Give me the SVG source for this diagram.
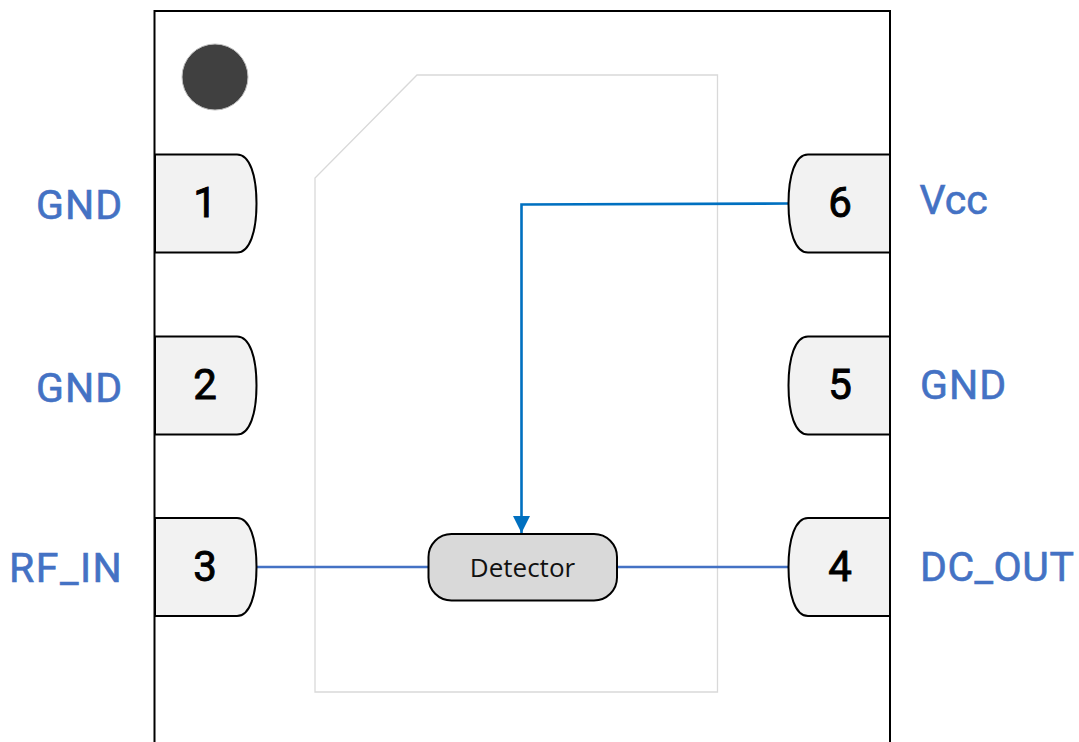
<svg xmlns="http://www.w3.org/2000/svg" width="1079" height="742" viewBox="0 0 1079 742">
<style>
.pin{fill:#f2f2f2;stroke:#000;stroke-width:2}
.num{font-family:Roboto,"Liberation Sans",sans-serif;font-weight:400;font-size:42px;fill:#000;stroke:#000;stroke-width:.9px;text-anchor:middle}
.lab{font-family:Roboto,"Liberation Sans",sans-serif;font-weight:400;font-size:41px;fill:#4472c4;stroke:#4472c4;stroke-width:.6px;letter-spacing:1px}
.sig{fill:none;stroke:#4472c4;stroke-width:2.400}
</style>
<defs>
<marker id="arrow" markerUnits="userSpaceOnUse" markerWidth="18" markerHeight="18" refX="17" refY="9" orient="auto"><path d="M0 0.500L17 9L0 17.500Z" fill="#0070c0"/></marker>
</defs>
<rect width="1079" height="742" fill="#fff"/>
<g id="package">
<path d="M154.500 742V11H890V742" fill="none" stroke="#000" stroke-width="2"/>
<circle cx="215" cy="77" r="33" fill="#404040" stroke="#bfbfbf" stroke-width="1"/>
<path d="M417 75H717.500V692H315V178Z" fill="#fff" stroke="#d9d9d9" stroke-width="1.300"/>
</g>
<g id="connectors">
<path class="sig" d="M257 567H428"/>
<path class="sig" d="M617 567H789"/>
<path d="M789 203.500L521.500 204.500V533" fill="none" stroke="#0070c0" stroke-width="2.600" marker-end="url(#arrow)"/>
</g>
<g id="pin1"><path class="pin" d="M155 154.500H237C250 154.500 256.500 176 256.500 203.500S250 252.500 237 252.500H155Z"/><text class="num" x="205" y="217">1</text><text class="lab" x="36" y="219">GND</text></g>
<g id="pin2"><path class="pin" d="M155 336.500H237C250 336.500 256.500 358 256.500 385.500S250 434.500 237 434.500H155Z"/><text class="num" x="205" y="399">2</text><text class="lab" x="36" y="402">GND</text></g>
<g id="pin3"><path class="pin" d="M155 518H237C250 518 256.500 539.500 256.500 567S250 616 237 616H155Z"/><text class="num" x="205" y="581">3</text><text class="lab" x="9" y="582" style="letter-spacing:1.500px">RF_IN</text></g>
<g id="pin4"><path class="pin" d="M890 518H808C795 518 788.500 539.500 788.500 567S795 616 808 616H890Z"/><text class="num" x="840" y="581">4</text><text class="lab" x="920" y="581" style="letter-spacing:.5px">DC_OUT</text></g>
<g id="pin5"><path class="pin" d="M890 336.500H808C795 336.500 788.500 358 788.500 385.500S795 434.500 808 434.500H890Z"/><text class="num" x="840" y="399">5</text><text class="lab" x="920" y="399">GND</text></g>
<g id="pin6"><path class="pin" d="M890 154.500H808C795 154.500 788.500 176 788.500 203.500S795 252.500 808 252.500H890Z"/><text class="num" x="840" y="217">6</text><text class="lab" x="919.500" y="214" style="letter-spacing:0">Vcc</text></g>
<g id="detector"><rect x="428.500" y="534" width="188.500" height="66.500" rx="23" fill="#d9d9d9" stroke="#000" stroke-width="2"/><text x="522.500" y="577" text-anchor="middle" font-family="'Open Sans','Noto Sans',sans-serif" font-size="26px" fill="#111">Detector</text></g>
</svg>
